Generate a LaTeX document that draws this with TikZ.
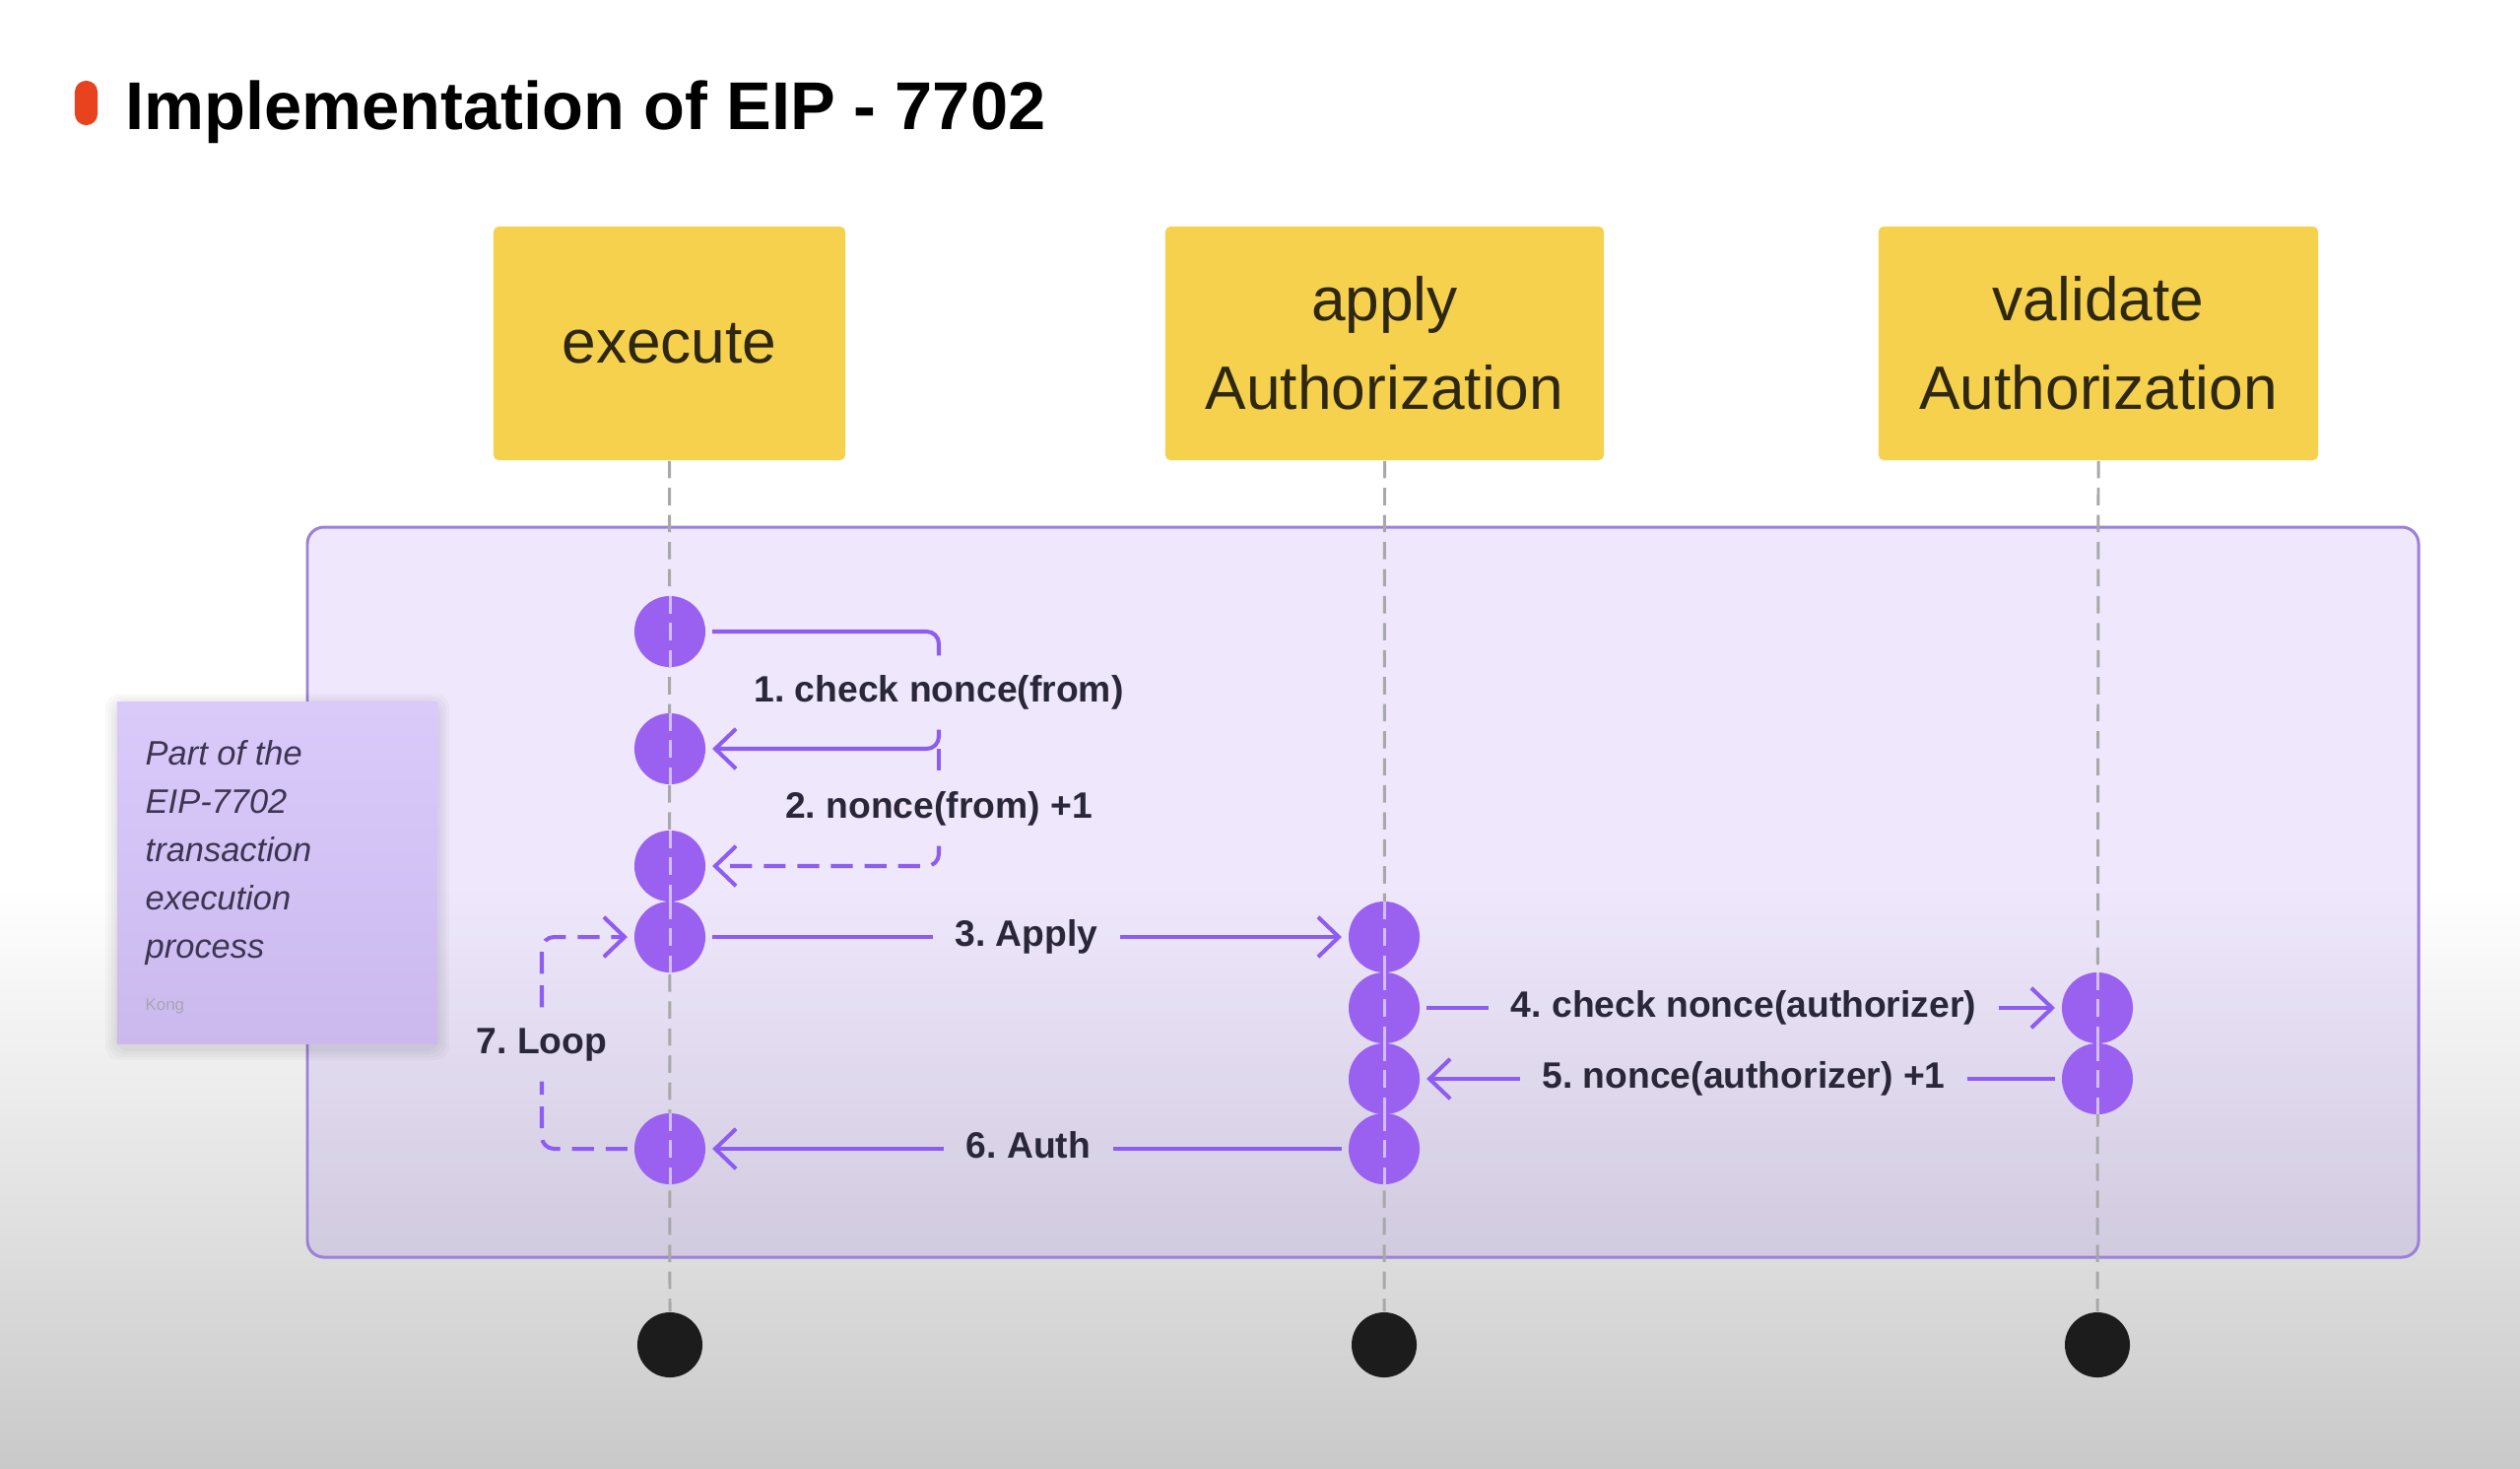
\documentclass[tikz,border=0pt]{standalone}
\usepackage{fontspec}
\setmainfont{Liberation Sans}
\usetikzlibrary{arrows.meta,positioning}
\frenchspacing

\definecolor{boxyellow}{HTML}{F6D14E}
\definecolor{boxtext}{HTML}{2E2712}
\definecolor{dotpurple}{HTML}{9A60F0}
\definecolor{dotline}{HTML}{D3BFF8}
\definecolor{msgpurple}{HTML}{8D5CF0}
\definecolor{framepurple}{HTML}{9B80D8}
\definecolor{framefill}{HTML}{9060F0}
\definecolor{labeltext}{HTML}{2A2838}
\definecolor{titlered}{HTML}{E8421E}
\definecolor{notetop}{HTML}{DACAFA}
\definecolor{notebottom}{HTML}{CBB9EE}
\definecolor{notetext}{HTML}{3C3552}
\definecolor{bggray}{HTML}{C9C9C9}
\definecolor{lifegray}{HTML}{A8A8A8}

\tikzset{
  lane/.style={fill=boxyellow, rounded corners=1.5pt, minimum width=3.57cm,
    minimum height=2.37cm, align=center, text=boxtext,
    font=\fontsize{17.7}{25.6}\selectfont},
  act/.style={circle, fill=dotpurple, minimum size=0.72cm, inner sep=0pt, outer sep=2pt},
  enddot/.style={circle, fill=black!89, minimum size=0.66cm, inner sep=0pt},
  life/.style={draw=lifegray, line width=0.85pt, dash pattern=on 5pt off 2.8pt},
  lifein/.style={draw=dotline, line width=0.85pt, dash pattern=on 5pt off 2.8pt,
    shorten <=2pt, shorten >=2pt},
  msg/.style={draw=msgpurple, line width=1.15pt, rounded corners=3.5pt},
  tip/.style={-{Straight Barb[length=6pt,width=11.5pt]}},
  dashmsg/.style={dash pattern=on 6.3pt off 3.4pt},
  lbl/.style={font=\fontsize{10.6}{13}\selectfont\bfseries, text=labeltext,
    text height=7.9pt, text depth=2.3pt, inner ysep=5.4pt, inner xsep=6.2pt}
}

\begin{document}
\begin{tikzpicture}[x=0.01cm, y=-0.01cm]
  \useasboundingbox (0,0) rectangle (2558,1490);
  \fill[white] (0,0) rectangle (2558,900);
  \shade[top color=white, bottom color=bggray] (0,900) rectangle (2558,1490);

  \node[fill=titlered, rounded corners=3.2pt, minimum width=0.23cm, minimum height=0.45cm,
    inner sep=0pt] (pill) at (87.5,104.5) {};
  \node[anchor=base west, inner sep=0pt, font=\fontsize{19.5}{23}\selectfont\bfseries]
    (title) at (127,131) {Implementation of EIP - 7702};

  \draw[framepurple, line width=0.85pt, fill=framefill, fill opacity=0.14, rounded corners=4.8pt]
    (312,535) rectangle (2455,1276);

  \foreach \s in {3,6,9,12}
    \fill[black, opacity=0.025, rounded corners=4pt] (119-\s,716-\s) rectangle (444+\s,1064+\s);
  \node[top color=notetop, bottom color=notebottom, minimum width=3.25cm, minimum height=3.46cm]
    (note) at (281.5,886) {};
  \node[anchor=north west, inner sep=0pt, align=left, text=notetext,
    font=\fontsize{9.8}{13.9}\selectfont\itshape] (notetxt) at (147,751)
    {Part of the\\EIP-7702\\transaction\\execution\\process};
  \node[anchor=west, inner sep=0pt, text=notetext!45, font=\fontsize{4.8}{6}\selectfont]
    (kong) at (147,1021) {Kong};

  \node[lane] (exec) at (679.5,348.5) {execute};
  \node[lane, minimum width=4.45cm] (apply) at (1405.5,348.5) {apply\\Authorization};
  \node[lane, minimum width=4.46cm] (valid) at (2130,348.5) {validate\\Authorization};

  \node[enddot] (xend) at (680,1365) {};
  \node[enddot] (aend) at (1405,1365) {};
  \node[enddot] (vend) at (2129,1365) {};

  \draw[life] (exec.south) -- (xend.north);
  \draw[life] (apply.south) -- (aend.north);
  \draw[life] (valid.south) -- (vend.north);

  \node[act] (e1) at (680,641) {};
  \node[act] (e2) at (680,760) {};
  \node[act] (e3) at (680,879) {};
  \node[act] (e4) at (680,951) {};
  \node[act] (e5) at (680,1166) {};
  \node[act] (a1) at (1405,951) {};
  \node[act] (a2) at (1405,1023) {};
  \node[act] (a3) at (1405,1095) {};
  \node[act] (a4) at (1405,1166) {};
  \node[act] (v1) at (2129,1023) {};
  \node[act] (v2) at (2129,1095) {};
  \foreach \c in {e1,e2,e3,e4,e5,a1,a2,a3,a4,v1,v2}
    \draw[lifein] (\c.north) -- (\c.south);

  \node[lbl] (l1) at (953,703) {1. check nonce(from)};
  \draw[msg] (e1.east) -| (l1.north);
  \draw[msg, tip] (l1.south) |- (e2.east);
  \coordinate (t1) at (l1.south |- e2.east);

  \node[lbl] (l2) at (953,821) {2. nonce(from) +1};
  \draw[msg, dashmsg] (t1) -- (l2.north);
  \draw[msg, dashmsg, tip] (l2.south) |- (e3.east);

  \node[lbl] (l3) at (1042,951) {3. Apply};
  \draw[msg] (e4.east) -- (l3.west);
  \draw[msg, tip] (l3.east) -- (a1.west);

  \node[lbl] (l4) at (1770,1023) {4. check nonce(authorizer)};
  \draw[msg] (a2.east) -- (l4.west);
  \draw[msg, tip] (l4.east) -- (v1.west);

  \node[lbl] (l5) at (1770,1095) {5. nonce(authorizer) +1};
  \draw[msg] (v2.west) -- (l5.east);
  \draw[msg, tip] (l5.west) -- (a3.east);

  \node[lbl] (l6) at (1044,1166) {6. Auth};
  \draw[msg] (a4.west) -- (l6.east);
  \draw[msg, tip] (l6.west) -- (e5.east);

  \node[lbl] (l7) at (550,1060) {7. Loop};
  \draw[msg, dashmsg] (e5.west) -| (l7.south);
  \draw[msg, dashmsg, tip] (l7.north) |- (e4.west);
\end{tikzpicture}
\end{document}
